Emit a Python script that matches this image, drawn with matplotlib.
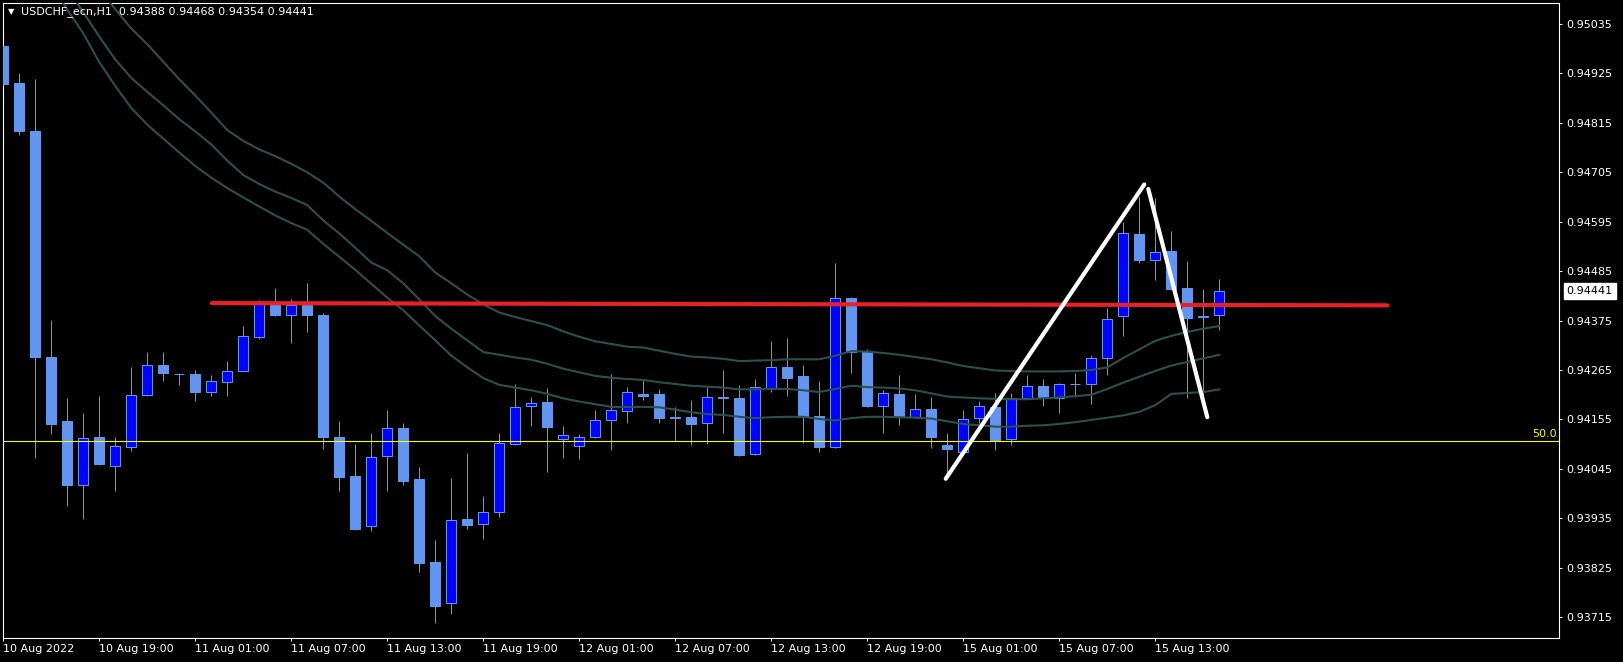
import matplotlib
matplotlib.use("Agg")
import matplotlib.pyplot as plt
import matplotlib.transforms as mtransforms
import numpy as np

# hourly candles, USDCHF_ecn H1 (10 Aug 13:00 .. 15 Aug 16:00)
opens = [0.94986, 0.94904, 0.94797, 0.94294, 0.94152, 0.94010, 0.94116, 0.94052, 0.94094, 0.94210,
         0.94276, 0.94257, 0.94256, 0.94217, 0.94239, 0.94264, 0.94338, 0.94410, 0.94387, 0.94410,
         0.94387, 0.94115, 0.94029, 0.93917, 0.94073, 0.94135, 0.94023, 0.93838, 0.93746, 0.93934,
         0.93922, 0.93948, 0.94101, 0.94186, 0.94194, 0.94111, 0.94095, 0.94115, 0.94153, 0.94173,
         0.94212, 0.94212, 0.94160, 0.94160, 0.94147, 0.94205, 0.94203, 0.94079, 0.94226, 0.94272,
         0.94252, 0.94163, 0.94094, 0.94425, 0.94306, 0.94186, 0.94212, 0.94160, 0.94178, 0.94098,
         0.94083, 0.94158, 0.94182, 0.94111, 0.94202, 0.94230, 0.94202, 0.94234, 0.94233, 0.94291,
         0.94385, 0.94568, 0.94511, 0.94530, 0.94448, 0.94385, 0.94388]
highs = [0.95015, 0.94927, 0.94913, 0.94376, 0.94202, 0.94169, 0.94207, 0.94116, 0.94272, 0.94305,
         0.94305, 0.94257, 0.94265, 0.94254, 0.94285, 0.94362, 0.94421, 0.94448, 0.94423, 0.94458,
         0.94391, 0.94152, 0.94100, 0.94124, 0.94176, 0.94148, 0.94049, 0.93887, 0.94025, 0.94081,
         0.93985, 0.94124, 0.94234, 0.94205, 0.94225, 0.94141, 0.94123, 0.94176, 0.94256, 0.94227,
         0.94243, 0.94222, 0.94182, 0.94198, 0.94227, 0.94265, 0.94232, 0.94245, 0.94330, 0.94336,
         0.94276, 0.94241, 0.94503, 0.94427, 0.94311, 0.94221, 0.94253, 0.94211, 0.94206, 0.94124,
         0.94176, 0.94196, 0.94213, 0.94213, 0.94255, 0.94245, 0.94237, 0.94259, 0.94298, 0.94402,
         0.94595, 0.94650, 0.94647, 0.94574, 0.94508, 0.94445, 0.94468]
lows = [0.94868, 0.94788, 0.94070, 0.94123, 0.93962, 0.93934, 0.94054, 0.93996, 0.94085, 0.94208,
        0.94241, 0.94232, 0.94197, 0.94208, 0.94208, 0.94262, 0.94334, 0.94385, 0.94326, 0.94350,
        0.94090, 0.93996, 0.93909, 0.93907, 0.93996, 0.94009, 0.93816, 0.93703, 0.93723, 0.93911,
        0.93889, 0.93937, 0.94098, 0.94141, 0.94037, 0.94070, 0.94068, 0.94113, 0.94086, 0.94148,
        0.94198, 0.94148, 0.94108, 0.94098, 0.94100, 0.94126, 0.94074, 0.94077, 0.94217, 0.94208,
        0.94103, 0.94083, 0.94092, 0.94259, 0.94183, 0.94126, 0.94143, 0.94158, 0.94092, 0.94035,
        0.94080, 0.94147, 0.94086, 0.94098, 0.94200, 0.94185, 0.94170, 0.94206, 0.94190, 0.94254,
        0.94341, 0.94503, 0.94465, 0.94444, 0.94203, 0.94209, 0.94354]
closes = [0.94902, 0.94798, 0.94295, 0.94145, 0.94009, 0.94113, 0.94056, 0.94096, 0.94210, 0.94276,
          0.94259, 0.94256, 0.94217, 0.94240, 0.94264, 0.94341, 0.94417, 0.94387, 0.94410, 0.94387,
          0.94115, 0.94028, 0.93912, 0.94071, 0.94135, 0.94018, 0.93836, 0.93740, 0.93931, 0.93921,
          0.93949, 0.94102, 0.94182, 0.94192, 0.94139, 0.94120, 0.94115, 0.94154, 0.94175, 0.94216,
          0.94208, 0.94159, 0.94158, 0.94146, 0.94204, 0.94203, 0.94076, 0.94227, 0.94272, 0.94248,
          0.94161, 0.94094, 0.94425, 0.94306, 0.94185, 0.94213, 0.94161, 0.94178, 0.94117, 0.94089,
          0.94155, 0.94184, 0.94107, 0.94202, 0.94230, 0.94204, 0.94234, 0.94233, 0.94291, 0.94378,
          0.94569, 0.94511, 0.94528, 0.94446, 0.94381, 0.94384, 0.94441]

# three moving averages (None = above the visible range / not drawn)
ma_fast = [None, None, None,
           0.95122, 0.95067, 0.95014, 0.94950, 0.94897, 0.94848, 0.94811, 0.94780, 0.94749, 0.94719,
           0.94693, 0.94670, 0.94649, 0.94629, 0.94609, 0.94592, 0.94577, 0.94546, 0.94517, 0.94488,
           0.94457, 0.94426, 0.94398, 0.94364, 0.94331, 0.94297, 0.94271, 0.94247, 0.94232, 0.94226,
           0.94220, 0.94212, 0.94202, 0.94195, 0.94189, 0.94183, 0.94183, 0.94183, 0.94182, 0.94177,
           0.94171, 0.94167, 0.94165, 0.94161, 0.94158, 0.94160, 0.94161, 0.94161, 0.94156, 0.94153,
           0.94158, 0.94161, 0.94161, 0.94160, 0.94159, 0.94157, 0.94151, 0.94145, 0.94142, 0.94139,
           0.94139, 0.94141, 0.94142, 0.94145, 0.94149, 0.94154, 0.94159, 0.94164, 0.94172, 0.94187,
           0.94212, 0.94214, 0.94216, 0.94222]
ma_mid = [None, None, None, None,
          0.95114, 0.95061, 0.95007, 0.94956, 0.94915, 0.94884, 0.94854, 0.94823, 0.94796, 0.94767,
          0.94731, 0.94699, 0.94679, 0.94662, 0.94648, 0.94632, 0.94598, 0.94569, 0.94537, 0.94504,
          0.94487, 0.94458, 0.94422, 0.94385, 0.94357, 0.94331, 0.94305, 0.94299, 0.94293, 0.94288,
          0.94279, 0.94268, 0.94260, 0.94252, 0.94248, 0.94245, 0.94243, 0.94238, 0.94234, 0.94230,
          0.94228, 0.94226, 0.94222, 0.94222, 0.94223, 0.94223, 0.94220, 0.94216, 0.94223, 0.94230,
          0.94227, 0.94226, 0.94224, 0.94220, 0.94213, 0.94206, 0.94204, 0.94202, 0.94201, 0.94200,
          0.94200, 0.94202, 0.94204, 0.94207, 0.94210, 0.94223, 0.94237, 0.94250, 0.94263, 0.94275,
          0.94283, 0.94291, 0.94299]
ma_slow = [None, None, None, None, None, None,
           0.95111, 0.95068, 0.95025, 0.94990, 0.94951, 0.94912, 0.94876, 0.94838, 0.94799, 0.94775,
           0.94756, 0.94741, 0.94724, 0.94705, 0.94682, 0.94651, 0.94623, 0.94597, 0.94570, 0.94544,
           0.94518, 0.94482, 0.94458, 0.94433, 0.94411, 0.94393, 0.94383, 0.94374, 0.94365, 0.94351,
           0.94339, 0.94329, 0.94323, 0.94317, 0.94315, 0.94308, 0.94301, 0.94295, 0.94293, 0.94290,
           0.94285, 0.94286, 0.94287, 0.94289, 0.94289, 0.94289, 0.94297, 0.94307, 0.94306, 0.94303,
           0.94299, 0.94294, 0.94289, 0.94282, 0.94274, 0.94269, 0.94264, 0.94263, 0.94262, 0.94262,
           0.94262, 0.94263, 0.94265, 0.94271, 0.94292, 0.94311, 0.94330, 0.94341, 0.94350, 0.94357,
           0.94363]

# drawn objects: (bar index, price) pairs
red_line_bars = [13.04, 86.5]
red_line_prices = [0.94414, 0.94409]
up_leg_bars = [58.9, 71.31]
up_leg_prices = [0.94023, 0.94678]
down_leg_bars = [71.56, 75.25]
down_leg_prices = [0.94668, 0.94160]
level_50 = 0.94106

time_labels = ["10 Aug 2022", "10 Aug 19:00", "11 Aug 01:00", "11 Aug 07:00", "11 Aug 13:00",
               "11 Aug 19:00", "12 Aug 01:00", "12 Aug 07:00", "12 Aug 13:00", "12 Aug 19:00",
               "15 Aug 01:00", "15 Aug 07:00", "15 Aug 13:00"]
time_label_bars = [0, 6, 12, 18, 24, 30, 36, 42, 48, 54, 60, 66, 72]
price_ticks = [0.95035, 0.94925, 0.94815, 0.94705, 0.94595, 0.94485, 0.94375, 0.94265,
               0.94155, 0.94045, 0.93935, 0.93825, 0.93715]

BULL = "#0000ff"
BEAR = "#6495ed"
MA_COLOR = "#2f4f4f"

W, H = 1623, 662
fig = plt.figure(figsize=(W / 100, H / 100), dpi=100, facecolor="black")
ax = fig.add_axes([2.7 / W, (H - 638.3) / H, (1559.3 - 2.7) / W, (638.3 - 2.5) / H])
ax.set_facecolor("black")

o = np.array(opens)
c = np.array(closes)
x = np.arange(len(o))
up = c > o

# wicks then bodies
ax.vlines(x, lows, highs, color=BEAR, lw=0.75, zorder=2)
ax.bar(x[~up], (c - o)[~up], bottom=o[~up], width=0.62, color=BEAR,
       edgecolor=BEAR, linewidth=0.75, zorder=3)
ax.bar(x[up], (c - o)[up], bottom=o[up], width=0.62, color=BULL,
       edgecolor=BEAR, linewidth=0.75, zorder=3)

for ma in (ma_fast, ma_mid, ma_slow):
    ax.plot(x, np.array(ma, dtype=float), color=MA_COLOR, lw=1.5, zorder=4)

ax.axhline(level_50, color="#ffff00", lw=0.8, zorder=5)
ax.plot(red_line_bars, red_line_prices, color="#e8202a", lw=3.0,
        solid_capstyle="round", zorder=6)
ax.plot(up_leg_bars, up_leg_prices, color="white", lw=3.0,
        solid_capstyle="round", zorder=7)
ax.plot(down_leg_bars, down_leg_prices, color="white", lw=3.0,
        solid_capstyle="round", zorder=7)

ax.set_xlim(-0.04, 97.25)
ax.set_ylim(0.93668, 0.95083)

for s in ax.spines.values():
    s.set_color("white")
    s.set_linewidth(0.8)

ax.yaxis.tick_right()
ax.set_yticks(price_ticks)
ax.set_yticklabels([f"{p:.5f}" for p in price_ticks])
ax.set_xticks(time_label_bars)
ax.set_xticklabels(time_labels, ha="left")
ax.tick_params(colors="white", labelsize=8, length=2.3, width=0.7)
ax.tick_params(axis="y", pad=3)
ax.tick_params(axis="x", pad=2)
for lab in ax.get_xticklabels():
    lab.set_horizontalalignment("left")

# current price box
ax.annotate(f"{closes[-1]:.5f}", xy=(1, closes[-1]), xycoords=ax.get_yaxis_transform(),
            xytext=(5.3, 0), textcoords="offset points", ha="left", va="center",
            fontsize=8, color="black", annotation_clip=False,
            bbox=dict(boxstyle="square,pad=0.25", facecolor="white", edgecolor="white"))

# level label
ax.annotate("50.0", xy=(1, level_50), xycoords=ax.get_yaxis_transform(),
            xytext=(-1.5, 1.5), textcoords="offset points", ha="right", va="bottom",
            fontsize=8, color="#ffff00")

# header
fig.text(11 / W, 1 - 12 / H, "\u25bc", color="white", fontsize=6, ha="center", va="center")
fig.text(21 / W, 1 - 12 / H,
         f"USDCHF_ecn,H1  {opens[-1]:.5f} {highs[-1]:.5f} {lows[-1]:.5f} {closes[-1]:.5f}",
         color="white", fontsize=8, ha="left", va="center")

fig.savefig("out.png", dpi=100, facecolor="black")
plt.close(fig)
